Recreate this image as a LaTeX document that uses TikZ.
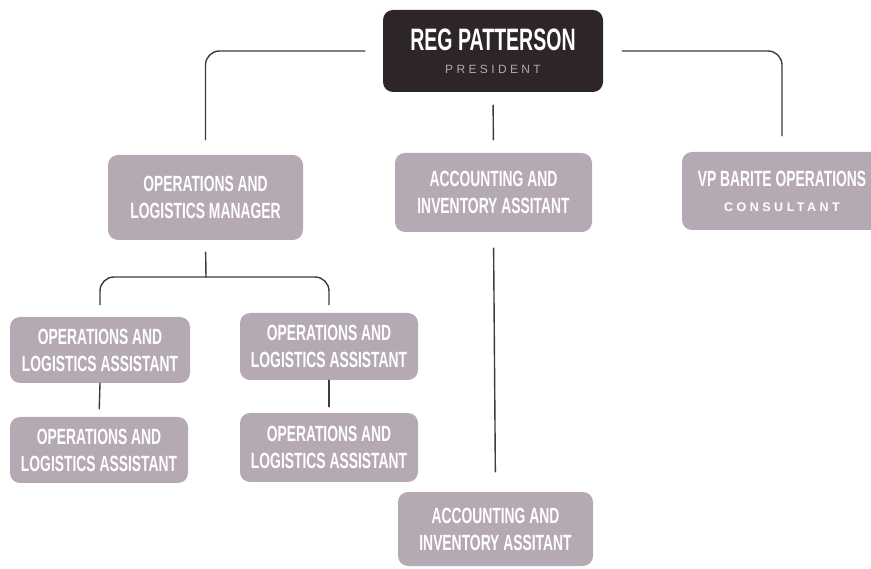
\documentclass[tikz,border=0pt]{standalone}
\usepackage{fontspec}
\setmainfont{Liberation Sans}
\newfontfamily\condfont[FakeStretch=0.63]{Liberation Sans}
\newfontfamily\spacedfont[LetterSpace=28]{Liberation Sans}
\definecolor{presfill}{HTML}{2D2526}
\definecolor{boxfill}{HTML}{B5AAB4}
\definecolor{linegray}{HTML}{3F3B3C}
\definecolor{subgray}{HTML}{B2AAAA}

\begin{document}
\begin{tikzpicture}[line cap=round,line join=round,x=1pt,y=-1pt,
  box/.style={fill=boxfill,rounded corners=10pt,text=white,align=center,inner sep=0pt,
    font=\condfont\bfseries\fontsize{22}{27}\selectfont},
  presbox/.style={box,fill=presfill,minimum width=220pt,minimum height=82pt},
  conn/.style={draw=linegray,line width=1.4pt,rounded corners=14pt}]
\useasboundingbox (0,0) rectangle (871,569);
% top
\node[presbox] (pres) at (493,51) {{\fontsize{31}{32}\selectfont REG PATTERSON}\\[-4pt]
  {\spacedfont\mdseries\color{subgray}\fontsize{12}{13}\selectfont PRESIDENT}};
% second row
\node[box,minimum width=195pt,minimum height=85pt] (mgr) at (205.5,197.5) {OPERATIONS AND\\LOGISTICS MANAGER};
\node[box,minimum width=197pt,minimum height=79pt] (acc1) at (493.5,192.5) {ACCOUNTING AND\\INVENTORY ASSITANT};
\node[box,minimum width=200pt,minimum height=78pt] (vp) at (782,191) {VP BARITE OPERATIONS\\[-2pt]
  {\spacedfont\bfseries\fontsize{12.5}{13}\selectfont CONSULTANT}};
% operations assistants
\node[box,minimum width=180pt,minimum height=66pt] (oa1) at (100,350) {OPERATIONS AND\\LOGISTICS ASSISTANT};
\node[box,minimum width=178pt,minimum height=67pt] (oa2) at (329,346.5) {OPERATIONS AND\\LOGISTICS ASSISTANT};
\node[box,minimum width=178pt,minimum height=66pt] (oa3) at (99,450) {OPERATIONS AND\\LOGISTICS ASSISTANT};
\node[box,minimum width=178pt,minimum height=69pt] (oa4) at (329,447.5) {OPERATIONS AND\\LOGISTICS ASSISTANT};
% accounting, lower
\node[box,minimum width=195pt,minimum height=74pt] (acc2) at (495.5,529) {ACCOUNTING AND\\INVENTORY ASSITANT};
% connectors
\coordinate (split) at (206,277);
\draw[conn,shorten <=18pt,shorten >=15pt] (pres.west) -| (mgr.north);
\draw[conn,shorten <=19pt,shorten >=16pt] (pres.east) -| (vp.north);
\draw[conn,shorten <=13pt,shorten >=13pt] (pres.south) -- (acc1.north);
\draw[conn,shorten <=16pt,shorten >=20pt] (acc1.south) -- (acc2.north);
\draw[conn,shorten <=12pt] (mgr.south) -- (split);
\draw[conn,shorten >=12pt] (split) -| (oa1.north);
\draw[conn,shorten >=8pt] (split) -| (oa2.north);
\draw[conn,shorten >=8pt] (oa1.south) -- (oa3.north);
\draw[conn,shorten >=6pt] (oa2.south) -- (oa4.north);
\end{tikzpicture}
\end{document}
